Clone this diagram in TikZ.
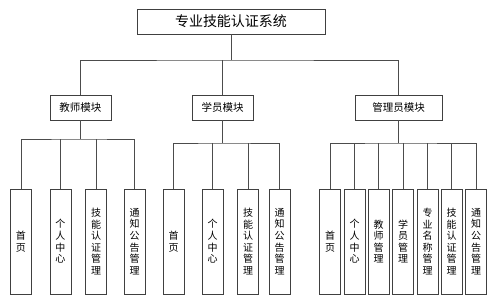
\documentclass[tikz,border=0pt]{standalone}
\usepackage{fontspec}
\setmainfont{Noto Sans CJK SC}

\begin{document}
\begin{tikzpicture}[x=1pt, y=-1pt,
  box/.style={draw=black!75, line width=0.8pt, inner sep=0pt},
  sysbox/.style={box, minimum width=188pt, minimum height=25pt, font=\fontsize{14}{16}\selectfont},
  modbox/.style={box, minimum height=25pt, font=\fontsize{10.5}{12}\selectfont},
  leafbox/.style={box, minimum width=21pt, minimum height=105pt, align=center, font=\fontsize{10}{11.6}\selectfont},
  link/.style={draw=black!70, line width=0.8pt}]
  \fill[white] (0,0) rectangle (499,299);
  \useasboundingbox (0,0) rectangle (499,299);

  % system and modules
  \node[sysbox] (sys) at (231,21.5) {专业技能认证系统};
  \node[modbox, minimum width=61pt] (tch) at (80.5,107.5) {教师模块};
  \node[modbox, minimum width=61pt] (stu) at (222.5,107.5) {学员模块};
  \node[modbox, minimum width=87pt] (adm) at (398.5,107.5) {管理员模块};

  % teacher pages
  \node[leafbox] (t1) at (21,241.5) {首\\页};
  \node[leafbox] (t2) at (60.5,241.5) {个\\人\\中\\心};
  \node[leafbox] (t3) at (96,241.5) {技\\能\\认\\证\\管\\理};
  \node[leafbox] (t4) at (134.5,241.5) {通\\知\\公\\告\\管\\理};

  % student pages
  \node[leafbox] (s1) at (173.5,241.5) {首\\页};
  \node[leafbox] (s2) at (212.5,241.5) {个\\人\\中\\心};
  \node[leafbox] (s3) at (248,241.5) {技\\能\\认\\证\\管\\理};
  \node[leafbox] (s4) at (279.5,241.5) {通\\知\\公\\告\\管\\理};

  % admin pages
  \node[leafbox] (a1) at (330,241.5) {首\\页};
  \node[leafbox] (a2) at (354.5,241.5) {个\\人\\中\\心};
  \node[leafbox] (a3) at (378.5,241.5) {教\\师\\管\\理};
  \node[leafbox] (a4) at (403,241.5) {学\\员\\管\\理};
  \node[leafbox] (a5) at (427.5,241.5) {专\\业\\名\\称\\管\\理};
  \node[leafbox] (a6) at (451.5,241.5) {技\\能\\认\\证\\管\\理};
  \node[leafbox] (a7) at (476,241.5) {通\\知\\公\\告\\管\\理};

  % junctions
  \coordinate (j0) at (231,60);
  \coordinate (jt) at (80.5,139);
  \coordinate (js) at (222.5,143);
  \coordinate (ja) at (398.5,143);

  % top level
  \draw[link] (sys.south) -- (j0);
  \draw[link] (tch.north) |- (j0) -| (adm.north);
  \draw[link] (stu.north) -- (stu.north |- j0);

  % teacher branch
  \draw[link] (tch.south) -- (jt);
  \draw[link] (t1.north) |- (jt) -| (t4.north);
  \draw[link] (t2.north) -- (t2.north |- jt);
  \draw[link] (t3.north) -- (t3.north |- jt);

  % student branch
  \draw[link] (stu.south) -- (js);
  \draw[link] (s1.north) |- (js) -| (s4.north);
  \draw[link] (s2.north) -- (s2.north |- js);
  \draw[link] (s3.north) -- (s3.north |- js);

  % admin branch
  \draw[link] (adm.south) -- (ja);
  \draw[link] (a1.north) |- (ja) -| (a7.north);
  \draw[link] (a2.north) -- (a2.north |- ja);
  \draw[link] (a3.north) -- (a3.north |- ja);
  \draw[link] (a4.north) -- (a4.north |- ja);
  \draw[link] (a5.north) -- (a5.north |- ja);
  \draw[link] (a6.north) -- (a6.north |- ja);
\end{tikzpicture}
\end{document}
